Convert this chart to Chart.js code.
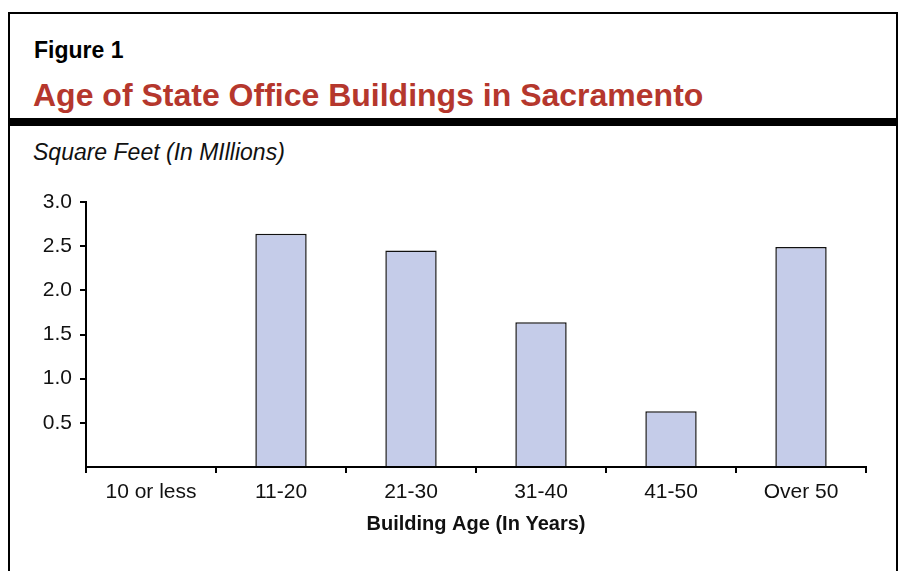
<!DOCTYPE html>
<html>
<head>
<meta charset="utf-8">
<script src="https://cdn.jsdelivr.net/npm/chart.js@4"></script>
<style>
  html, body { margin: 0; padding: 0; background: #fff; }
  body { width: 899px; height: 571px; position: relative; overflow: hidden; font-family: "Liberation Sans", Arial, Helvetica, sans-serif; }
  .frame { position: absolute; left: 8px; top: 12px; width: 886px; height: 580px; border: 2px solid #000; border-bottom: none; }
  .band { position: absolute; left: 8px; top: 118px; width: 890px; height: 8px; background: #000; }
  .txt { position: absolute; line-height: 1; white-space: nowrap; }
  #fig { left: 34px; top: 39px; font-size: 23px; font-weight: bold; color: #000; }
  #title { left: 33px; top: 79px; font-size: 32px; font-weight: bold; color: #b5372d; }
  #ylab { left: 33px; top: 141px; font-size: 23px; font-style: italic; color: #111; }
  canvas { position: absolute; left: 0; top: 0; }
</style>
</head>
<body>
<div class="frame"></div>
<div class="band"></div>
<div class="txt" id="fig">Figure 1</div>
<div class="txt" id="title">Age of State Office Buildings in Sacramento</div>
<div class="txt" id="ylab">Square Feet (In MIllions)</div>
<canvas id="c" width="899" height="571"></canvas>
<script>
const categories = ["10 or less", "11-20", "21-30", "31-40", "41-50", "Over 50"];
const squareFeet = [0, 2.64, 2.45, 1.64, 0.63, 2.49];
const yTicks = [0, 0.5, 1.0, 1.5, 2.0, 2.5, 3.0];
const xTitle = "Building Age (In Years)";

new Chart(document.getElementById("c"), {
  type: "bar",
  data: {
    labels: categories,
    datasets: [{
      data: squareFeet,
      backgroundColor: "#c5cce9",
      borderColor: "#111",
      borderWidth: 1.5,
      barPercentage: 0.395,
      categoryPercentage: 1.0
    }]
  },
  options: {
    responsive: false,
    animation: false,
    events: [],
    layout: { padding: { left: 0, right: 33, top: 202, bottom: 0 } },
    plugins: { legend: { display: false }, tooltip: { enabled: false } },
    scales: {
      x: {
        offset: true,
        grid: { display: true, offset: true, drawOnChartArea: false, drawTicks: true, tickLength: 6, color: "#000", lineWidth: 2 },
        border: { display: true, color: "#000", width: 2 },
        ticks: { color: "#111", font: { family: "Liberation Sans", size: 21 }, padding: 7, maxRotation: 0, autoSkip: false },
        title: { display: true, text: xTitle, color: "#111", font: { family: "Liberation Sans", size: 20, weight: "bold" }, padding: { top: 0, bottom: 35 } },
        afterFit: (s) => { s.height = 104; }
      },
      y: {
        min: 0, max: 3,
        afterBuildTicks: (s) => { s.ticks = yTicks.map(v => ({ value: v })); },
        grid: { display: true, drawOnChartArea: false, drawTicks: true, tickLength: 6, lineWidth: 2,
                color: (ctx) => ctx.tick && ctx.tick.value === 0 ? "rgba(0,0,0,0)" : "#000" },
        border: { display: true, color: "#000", width: 2 },
        ticks: { color: "#111", font: { family: "Liberation Sans", size: 21 }, padding: 8,
                 callback: (v) => v === 0 ? "" : Number(v).toFixed(1) },
        afterFit: (s) => { s.width = 86; }
      }
    }
  }
});
</script>
</body>
</html>
